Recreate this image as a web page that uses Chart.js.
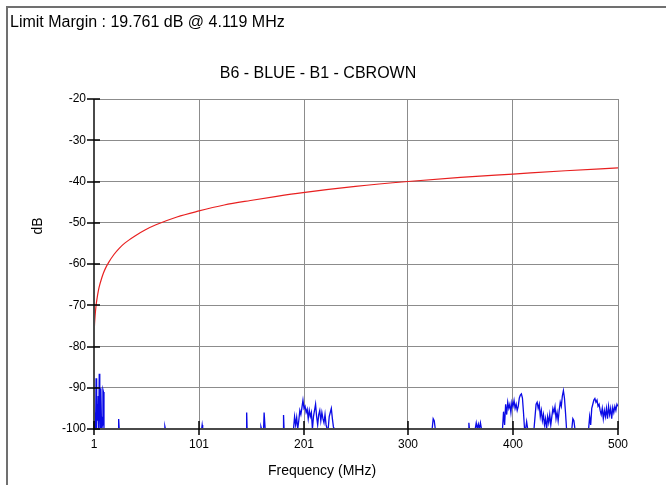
<!DOCTYPE html>
<html>
<head>
<meta charset="utf-8">
<script src="https://cdn.jsdelivr.net/npm/chart.js@4/dist/chart.umd.min.js"></script>
<style>
  html, body { margin: 0; padding: 0; background: #fff; }
  canvas { display: block; }
</style>
</head>
<body>
<canvas id="marginChart" width="666" height="485"></canvas>
<script>
// Values
const headerText = 'Limit Margin : 19.761 dB @ 4.119 MHz';
const chartTitle = 'B6 - BLUE - B1 - CBROWN';
const xTickValues = [1, 101, 201, 300, 400, 500];
const yTickStep = 10;

// Limit line (red), frequency in MHz / level in dB
const limitFreq = [1, 1.5, 2, 3, 4, 5, 6, 8, 10, 12, 15, 20, 25, 30, 40, 50, 60, 80, 100, 125, 150, 175, 200, 250, 300, 350, 400, 450, 500];
const limitDb = [-77.2, -74.6, -72.7, -70.0, -68.2, -66.7, -65.5, -63.7, -62.2, -61.0, -59.6, -57.7, -56.2, -55.0, -53.2, -51.7, -50.5, -48.6, -47.2, -45.7, -44.6, -43.6, -42.7, -41.2, -40.0, -39.0, -38.2, -37.4, -36.7];

// Measured trace (blue), [frequency MHz, dB]
const measured = [
  [1, -100], [1.5, -100], [2, -96], [2.5, -100], [3, -87.7], [3.5, -100], [4, -94], [4.5, -98],
  [5, -92], [5.5, -100], [6, -86.6], [6.5, -94], [7, -100], [7.5, -90.1], [8, -97], [8.5, -100],
  [9, -99], [9.5, -90.5], [10, -91], [10.5, -100], [24, -100], [24.5, -97.6], [25, -100],
  [68, -100], [68.5, -99.4], [69, -100], [103.5, -100], [104, -99], [104.5, -100],
  [146, -100], [146.4, -96], [146.8, -100], [159.5, -100], [160, -99.5], [160.5, -100],
  [162.5, -100], [163, -96], [163.5, -96], [164, -100], [181, -100], [181.5, -96.6], [182, -100],
  [191, -100], [192, -97], [193, -99], [194, -97.2], [195, -100], [196, -98], [197, -95.5],
  [198, -96.5], [199, -94.8], [200, -93], [201, -95], [202, -94.5], [203, -96], [204, -95.2],
  [205, -97.5], [206, -95.5], [207, -97], [208, -96], [209, -100], [210, -97], [211, -95.5],
  [212, -94], [213, -97], [214, -99], [215, -96.5], [216, -95.5], [217, -98], [218, -96],
  [219, -97.5], [220, -98.5], [221, -96.5], [222, -99], [223, -100], [224, -100], [225, -97],
  [226, -96], [227, -95], [228, -97.5], [229, -99.5], [230, -100], [323, -100], [324, -97.5],
  [325, -98], [326, -100], [357.5, -100], [358, -98.5], [358.5, -100], [364, -100], [365, -98.5],
  [366, -100], [367, -98.8], [368, -100], [369, -98.5], [370, -100], [390, -100], [391, -95.8],
  [392, -99], [393, -94], [394, -96.5], [395, -93.5], [396, -95], [397, -94], [398, -96],
  [399, -93.5], [400, -94.5], [401, -93.1], [402, -95], [403, -94], [404, -95.5], [405, -94.5],
  [406, -92.5], [407, -91.8], [408, -91.5], [409, -92.5], [410, -96], [411, -100], [412, -100],
  [413, -98.2], [414, -100], [420, -100], [421, -97], [422, -94], [423, -93.5], [424, -95],
  [425, -94], [426, -97], [427, -95.5], [428, -98], [429, -96.5], [430, -99], [431, -97.5],
  [432, -100], [433, -97], [434, -98.5], [435, -96.5], [436, -99], [437, -97], [438, -95],
  [439, -96], [440, -94.6], [441, -97.5], [442, -96], [443, -98], [444, -95.5], [445, -93.5],
  [446, -94.5], [447, -92], [448, -90.7], [449, -92.5], [450, -96], [451, -100], [456, -100],
  [457, -97.5], [458, -98], [459, -100], [472, -100], [473, -97], [474, -99], [475, -95],
  [476, -94], [477, -93], [478, -92.6], [479, -93.5], [480, -93], [481, -94.5], [482, -94],
  [483, -95.5], [484, -96.5], [485, -95], [486, -97.5], [487, -95.5], [488, -97], [489, -95],
  [490, -97.5], [491, -94.5], [492, -96.5], [493, -95], [494, -97.5], [495, -94.8], [496, -96],
  [497, -94.5], [498, -95.5], [499, -94], [500, -94.5]
];

const FONT = '"Liberation Sans", Arial, sans-serif';

// axes lines, crossing tick marks and the free texts
const framePlugin = {
  id: 'framePlugin',
  afterDatasetsDraw(chart) {
    const { ctx, chartArea: a, scales: { x, y } } = chart;
    ctx.save();
    ctx.strokeStyle = '#4a4a4a';
    ctx.lineWidth = 2;
    ctx.beginPath();
    ctx.moveTo(a.left, a.top);
    ctx.lineTo(a.left, a.bottom);
    ctx.lineTo(a.right, a.bottom);
    ctx.stroke();

    ctx.strokeStyle = '#000';
    ctx.lineWidth = 1.5;
    ctx.beginPath();
    y.ticks.forEach(t => {
      const py = Math.round(y.getPixelForValue(t.value));
      ctx.moveTo(a.left - 7, py);
      ctx.lineTo(a.left + 6, py);
    });
    x.ticks.forEach(t => {
      const px = Math.round(x.getPixelForValue(t.value));
      ctx.moveTo(px, a.bottom - 8);
      ctx.lineTo(px, a.bottom + 6);
    });
    ctx.stroke();
    ctx.restore();
  },
  afterDraw(chart) {
    const { ctx, chartArea: a } = chart;
    ctx.save();
    // outer frame
    ctx.strokeStyle = '#707070';
    ctx.lineWidth = 2;
    ctx.beginPath();
    ctx.moveTo(7, 485);
    ctx.lineTo(7, 7);
    ctx.lineTo(666, 7);
    ctx.stroke();

    ctx.fillStyle = '#000';
    ctx.textBaseline = 'alphabetic';
    ctx.textAlign = 'left';
    ctx.font = '16px ' + FONT;
    ctx.fillText(headerText, 10, 27);

    ctx.textAlign = 'center';
    ctx.fillText(chartTitle, 318, 78);

    ctx.font = '14px ' + FONT;
    ctx.fillText('Frequency (MHz)', 322, 475);

    ctx.translate(42, 226);
    ctx.rotate(-Math.PI / 2);
    ctx.fillText('dB', 0, 0);
    ctx.restore();
  }
};

new Chart(document.getElementById('marginChart').getContext('2d'), {
  type: 'line',
  data: {
    datasets: [
      {
        label: 'Limit',
        data: limitFreq.map((f, i) => ({ x: f, y: limitDb[i] })),
        borderColor: 'rgb(232, 32, 32)',
        borderWidth: 1.2,
        pointRadius: 0,
        cubicInterpolationMode: 'monotone',
        fill: false
      },
      {
        label: 'Measured',
        data: measured.map(p => ({ x: p[0], y: p[1] })),
        borderColor: 'rgb(10, 10, 230)',
        borderWidth: 1.3,
        pointRadius: 0,
        tension: 0,
        fill: false
      }
    ]
  },
  options: {
    responsive: false,
    animation: false,
    devicePixelRatio: 1,
    layout: { padding: { left: 0, top: 99, right: 48, bottom: 0 } },
    scales: {
      x: {
        type: 'linear',
        min: 1,
        max: 500,
        afterFit: s => { s.height = 56; },
        afterBuildTicks: s => { s.ticks = xTickValues.map(v => ({ value: v })); },
        grid: { color: '#8c8c8c', lineWidth: 1, drawTicks: false },
        border: { display: false },
        ticks: { color: '#000', padding: 8, maxRotation: 0, autoSkip: false, font: { family: FONT, size: 12 } }
      },
      y: {
        min: -100,
        max: -20,
        afterFit: s => { s.width = 94; },
        grid: { color: '#8c8c8c', lineWidth: 1, drawTicks: false },
        border: { display: false },
        ticks: { stepSize: yTickStep, color: '#000', padding: 8, font: { family: FONT, size: 12 } }
      }
    },
    plugins: {
      legend: { display: false },
      title: { display: false },
      tooltip: { enabled: false }
    }
  },
  plugins: [framePlugin]
});
</script>
</body>
</html>
